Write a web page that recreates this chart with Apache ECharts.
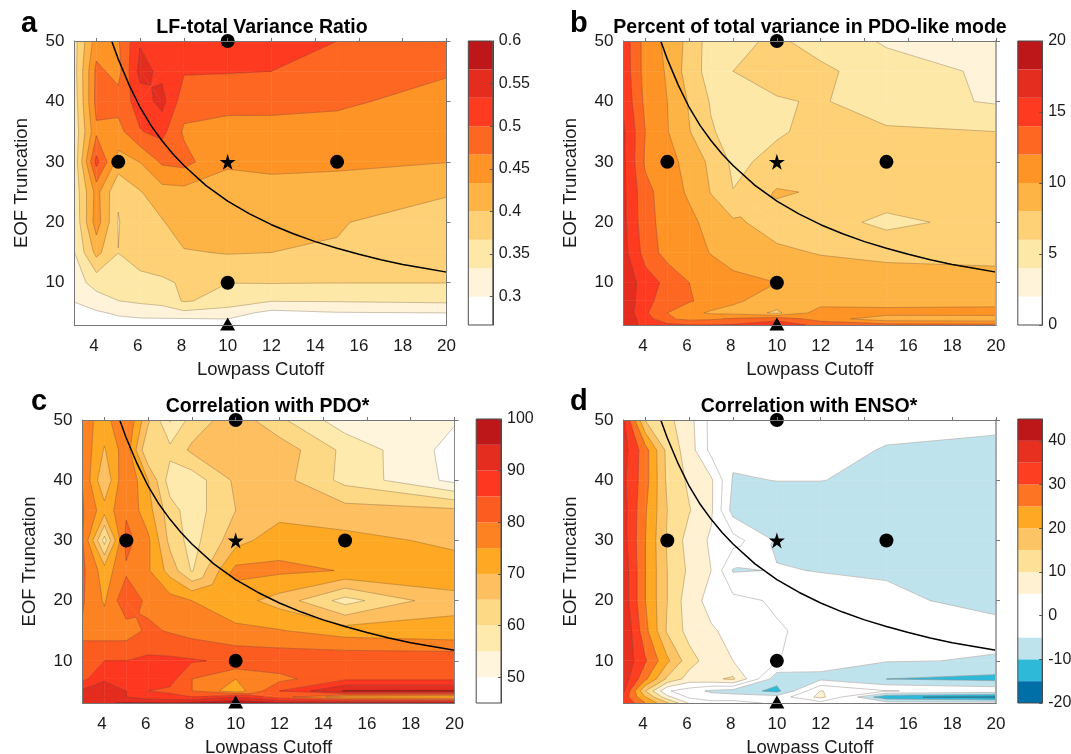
<!DOCTYPE html>
<html><head><meta charset="utf-8">
<style>html,body{margin:0;padding:0;background:#fff}#c{width:1071px;height:754px}</style>
<script src="https://cdn.jsdelivr.net/npm/echarts@6/dist/echarts.min.js"></script>
</head><body><div id="c"></div>
<script>
const cutoffs=[3,4,5,6,7,8,10,12,15,20];
const truncations=[3,4,5,7,10,15,20,25,30,35,40,45,50];
const xTicks=[4,6,8,10,12,14,16,18,20];
const yTicks=[10,20,30,40,50];

// rows follow truncations (3 -> 50), columns follow cutoffs
const ratioRows=[
[.27,.285,.285,.285,.285,.285,.29,.28,.285,.285],
[.275,.29,.295,.298,.298,.298,.3,.285,.29,.29],
[.285,.295,.305,.31,.315,.325,.315,.29,.298,.3],
[.302,.32,.333,.34,.345,.37,.355,.335,.336,.34],
[.32,.345,.352,.358,.362,.37,.367,.368,.367,.367],
[.333,.41,.367,.38,.385,.397,.402,.4,.398,.385],
[.34,.45,.365,.39,.397,.42,.42,.418,.402,.385],
[.345,.445,.37,.398,.42,.422,.428,.428,.425,.403],
[.345,.51,.42,.434,.472,.478,.435,.437,.437,.434],
[.345,.46,.455,.498,.51,.462,.455,.457,.455,.445],
[.35,.478,.48,.515,.545,.48,.477,.475,.472,.455],
[.355,.475,.455,.545,.525,.503,.502,.5,.487,.47],
[.355,.45,.463,.53,.525,.525,.52,.515,.5,.49]];
const percentRows=[
[17,15.5,14.5,14,14,14.2,15,13.5,12.8,12.5],
[17.5,15,12.3,11.5,11.7,12.3,13.5,11,8.8,8.6],
[17.5,14.3,12,10.6,9.7,9.4,7.6,11,10.8,11],
[17.5,14.7,12.9,12.2,11.2,10.3,9.1,9,9,9],
[17.6,14.9,13.5,12,11.2,10.4,10,9,8.6,8.6],
[16.7,13.2,11.2,10.8,9.9,9.4,8.3,7.9,7.7,7.5],
[16.5,12.7,11.2,10.5,9.3,8.3,7.3,7,5.4,6.9],
[16.4,12.6,11,9.7,7.9,6.05,8.2,7.8,7.3,7.2],
[16.4,11.7,10.6,9.4,7.5,5.6,6.5,7,7.2,7.1],
[16.3,12,10.1,8.1,6.2,5.2,5.8,6.5,6.3,6],
[15.6,11.5,10,7.8,5.8,5,5.8,6.2,4.8,3.8],
[15.3,11.2,9.8,7,5.2,6,6.9,6.5,4.7,3.7],
[15.2,11.2,9.5,7.4,5,5.4,6.4,5,3.8,3]];
const pdoRows=[
[92,94.5,95.5,95.5,95,96,98,95.5,95.5,95],
[93,92,90,87,86.5,85,90,82,72,70],
[91,92,90,85,84,80,72,85,95.5,95.5],
[83.5,89.5,88,87.5,87,80,75,78.5,84,84],
[81,85,85,86,86,85.5,84,83.5,84,84],
[79.5,77.5,77.5,81,79.5,78,76,75.3,72.5,71],
[80.5,74.4,84,78.5,77,75,72,68,58,69],
[81,72.5,79,75.6,68,59.5,76.5,76,74.8,72],
[80.5,58,82,76,63.5,58,68,73,71.5,69],
[80.5,72,79,72,62,57.5,65,68,67,66],
[79.8,65.5,80,70,57.5,57,66,67,58.5,48.6],
[79,69.5,78,60,61.4,66,69,68,58.7,48],
[77,73,80,66,54.5,62,68,61,52,50.5]];
const ensoRows=[
[35,25,15.5,4.5,1.5,2,-1,-2,-3,-3],
[33,20,6.5,-1,-2.5,-3,-3,6.5,-14,-17],
[36,15,.5,-2.5,-6,-7,-11.5,5.2,.2,-1.5],
[38,26,14,8,9,10.8,-8,-6,-10,-11.5],
[39,30.5,21,12,7.5,5,.3,-3.5,-4.7,-5.3],
[40,26.5,14.3,8.2,5.5,3.8,.5,-1.5,-3,-4],
[38,25,15,7,3.5,1.5,-.7,-3.6,-4.4,-5.9],
[38,25,15,9,5,-5.4,-4.8,-5.1,-5.3,-7],
[37,25,14.5,8,4.3,2,-5.6,-7,-6.5,-7],
[37,25.5,15,10.3,5.8,-7,-8,-8,-7.5,-7],
[36,27,14,9,5.8,-5.5,-4.9,-4.9,-6,-6],
[37,27,13.5,7.5,-1.5,-3.5,-4,-4,-5.2,-5.5],
[36,14.7,11.4,6.8,-1.5,-3,-3.5,-3.5,-4,-4.5]];

const ratioLevels=[.2667,.3,.3333,.3667,.4,.4333,.4667,.5,.5333,.5667,.6];
const percentLevels=[0,2,4,6,8,10,12,14,16,18,20];
const pdoLevels=[45,50,55,60,65,70,75,80,85,90,95,100];
const ensoLevels=[-20,-15,-10,-5,0,5,10,15,20,25,30,35,40,45];

const warmColors=['#ffffff','#fff3d9','#fee8a8','#fed176','#feb345','#fe9426','#fd6722','#fe3b20','#e42c1f','#bd1719'];
const pdoColors=['#ffffff','#fff5dc','#feeaad','#fed985','#fdbf60','#fea823','#fd8222','#fd5c20','#fe3820','#e42c1f','#bd1719'];
const ensoColors=['#006fa8','#2fb9d9','#bfe3ed','#ffffff','#ffffff','#fff1d2','#fee196','#fdc466','#fea823','#fd7522','#fe3e20','#e7301f','#bd1719'];

const ratioBarLabels=[.3,.35,.4,.45,.5,.55,.6];
const percentBarLabels=[0,5,10,15,20];
const pdoBarLabels=[50,60,70,80,90,100];
const ensoBarLabels=[-20,-10,0,10,20,30,40];

const curveX=[4.7,5,5.5,6,6.5,7,7.5,8,9,10,11,12,13,14,15,16,17,18,19,20];
const curveY=[50,47,42.7,39,36,33.5,31.3,29.4,26.1,23.5,21.4,19.6,18.1,16.8,15.7,14.7,13.8,13,12.4,11.75];
const circleMarks=[[5,30],[15,30],[10,10],[10,50]];
const starMark=[[10,30]];
const triangleMark=[[10,3]];

const titles=['LF-total Variance Ratio','Percent of total variance in PDO-like mode','Correlation with PDO*','Correlation with ENSO*'];
const letters=['a','b','c','d'];
const xName='Lowpass Cutoff', yName='EOF Truncation';

const panels=[
 {rows:ratioRows,levels:ratioLevels,colors:warmColors,bar:ratioBarLabels,plot:[74.5,41,372,284],cb:[468.3,41,24.5,284],tx:262,ty:18,lx:21,ly:9,edge:'#777'},
 {rows:percentRows,levels:percentLevels,colors:warmColors,bar:percentBarLabels,plot:[623.5,41,372.5,284],cb:[1017.8,41,24.4,284],tx:810,ty:18,lx:570,ly:9,edge:'#aaa'},
 {rows:pdoRows,levels:pdoLevels,colors:pdoColors,bar:pdoBarLabels,plot:[82.5,420,372,283],cb:[476.2,419,24.8,284],tx:267.5,ty:397,lx:31,ly:387,edge:'#888'},
 {rows:ensoRows,levels:ensoLevels,colors:ensoColors,bar:ensoBarLabels,plot:[623.5,420,372.5,283],cb:[1017.8,419,24.4,284],tx:809,ty:397,lx:570,ly:387,edge:'#aaa'}
];

const FONT='"Liberation Sans",Arial,sans-serif';
const STAR='path://M50 0L61 35L98 35L68 57L79 91L50 70L21 91L32 57L2 35L39 35Z';

function cellData(rows){
  const out=[];
  for(let j=0;j<truncations.length-1;j++)for(let i=0;i<cutoffs.length-1;i++){
    out.push([cutoffs[i],truncations[j],cutoffs[i+1],truncations[j+1],rows[j][i],rows[j][i+1],rows[j+1][i+1],rows[j+1][i]]);
  }
  return out;
}
function cellPieces(api,levels){
  const x0=api.value(0),y0=api.value(1),x1=api.value(2),y1=api.value(3);
  const q=[[x0,y0,api.value(4)],[x1,y0,api.value(5)],[x1,y1,api.value(6)],[x0,y1,api.value(7)]];
  const saddle=levels.some(L=>{
    const s=q.map(p=>p[2]>=L);
    return s[0]===s[2]&&s[1]===s[3]&&s[0]!==s[1];
  });
  if(!saddle)return [q];
  const c=[(x0+x1)/2,(y0+y1)/2,(q[0][2]+q[1][2]+q[2][2]+q[3][2])/4];
  return q.map((p,k)=>[p,q[(k+1)%4],c]);
}
function clip(poly,level,keepAbove){
  const out=[],inside=p=>keepAbove?p[2]>=level:p[2]<=level;
  for(let k=0;k<poly.length;k++){
    const a=poly[k],b=poly[(k+1)%poly.length],ia=inside(a),ib=inside(b);
    if(ia)out.push(a);
    if(ia!==ib){const t=(level-a[2])/(b[2]-a[2]);out.push([a[0]+t*(b[0]-a[0]),a[1]+t*(b[1]-a[1]),level]);}
  }
  return out;
}
function fillRender(p){
  return function(params,api){
    const children=[];
    cellPieces(api,p.levels).forEach(piece=>{
      p.colors.forEach((c,b)=>{
        let poly=piece;
        if(b>0)poly=clip(poly,p.levels[b],true);
        if(poly.length&&b<p.colors.length-1)poly=clip(poly,p.levels[b+1],false);
        if(poly.length>2)children.push({type:'polygon',silent:true,shape:{points:poly.map(q=>api.coord([q[0],q[1]]))},style:{fill:c,stroke:c,lineWidth:.5}});
      });
    });
    return {type:'group',children};
  };
}
function lineRender(p){
  return function(params,api){
    const children=[];
    cellPieces(api,p.levels).forEach(piece=>{
      p.levels.slice(1,-1).forEach(L=>{
        const pts=[];
        for(let k=0;k<piece.length;k++){
          const a=piece[k],b=piece[(k+1)%piece.length];
          if((a[2]>=L)!==(b[2]>=L)){const t=(L-a[2])/(b[2]-a[2]);pts.push(api.coord([a[0]+t*(b[0]-a[0]),a[1]+t*(b[1]-a[1])]));}
        }
        for(let k=0;k+1<pts.length;k+=2){
          children.push({type:'line',silent:true,shape:{x1:pts[k][0],y1:pts[k][1],x2:pts[k+1][0],y2:pts[k+1][1]},style:{stroke:'rgba(70,50,40,.38)',lineWidth:.7}});
        }
      });
    });
    return {type:'group',children};
  };
}
function barRender(p){
  return function(params,api){
    const a=api.coord([0,api.value(1)]),b=api.coord([1,api.value(2)]);
    return {type:'rect',silent:true,shape:{x:a[0],y:b[1],width:b[0]-a[0],height:a[1]-b[1]},style:{fill:p.colors[api.value(0)]}};
  };
}
function frameRender(params,api){
  const a=api.coord([0,api.value(0)]),b=api.coord([1,api.value(1)]);
  return {type:'rect',silent:true,shape:{x:a[0],y:b[1],width:b[0]-a[0],height:a[1]-b[1]},style:{fill:'none',stroke:'#4a4a4a',lineWidth:1}};
}

const grid=[],xAxis=[],yAxis=[],series=[],title=[];
const box=r=>({left:r[0],top:r[1],width:r[2],height:r[3],show:false,outerBoundsMode:'none',containLabel:false});
panels.forEach((p,k)=>{
  const gi=grid.length,xi=xAxis.length,yi=yAxis.length;
  const edge={lineStyle:{color:'#777',width:1}};
  grid.push(box(p.plot),box(p.cb));
  xAxis.push(
   {gridIndex:gi,type:'value',min:3,max:20,position:'bottom',z:10,name:xName,nameLocation:'middle',nameGap:35,
    nameTextStyle:{fontFamily:FONT,fontSize:18.5,color:'#1a1a1a'},splitLine:{show:false},axisLine:{show:true,onZero:false,...edge},axisTick:{show:false,customValues:xTicks},
    axisLabel:{customValues:xTicks,margin:13,fontFamily:FONT,fontSize:17,color:'#1a1a1a',formatter:v=>v<10?v+'\u00a0':String(v)}},
   {gridIndex:gi,type:'value',min:3,max:20,position:'top',z:10,splitLine:{show:false},axisLine:{show:true,onZero:false,...edge},
    axisTick:{show:true,customValues:xTicks,length:3,lineStyle:{color:'#777'}},axisLabel:{show:false}},
   {gridIndex:gi+1,type:'value',min:0,max:1,show:false}
  );
  yAxis.push(
   {gridIndex:gi,type:'value',min:3,max:50,position:'left',z:10,name:yName,nameLocation:'middle',nameGap:43,
    nameTextStyle:{fontFamily:FONT,fontSize:18.5,color:'#1a1a1a'},splitLine:{show:false},axisLine:{show:true,onZero:false,...edge},axisTick:{show:false,customValues:yTicks},
    axisLabel:{customValues:yTicks,margin:10,fontFamily:FONT,fontSize:17,color:'#1a1a1a'}},
   {gridIndex:gi,type:'value',min:3,max:50,position:'right',z:10,splitLine:{show:false},axisLine:{show:true,onZero:false,lineStyle:{color:p.edge,width:p.edge==='#aaa'?2:1}},
    axisTick:{show:true,customValues:yTicks,length:4,lineStyle:{color:'#777'}},axisLabel:{show:false}},
   {gridIndex:gi+1,type:'value',min:p.levels[0],max:p.levels[p.levels.length-1],position:'right',z:10,splitLine:{show:false},
    axisLine:{show:true,onZero:false,lineStyle:{color:'#4a4a4a'}},axisTick:{show:true,inside:true,length:3,customValues:p.bar,lineStyle:{color:'#555'}},
    axisLabel:{customValues:p.bar,margin:6,fontFamily:FONT,fontSize:16,color:'#1a1a1a',formatter:v=>String(v)}}
  );
  const data=cellData(p.rows);
  const on={xAxisIndex:xi,yAxisIndex:yi,coordinateSystem:'cartesian2d',animation:false,silent:true};
  series.push({type:'custom',...on,z:2,data,encode:{x:[0,2],y:[1,3]},renderItem:fillRender(p),clip:true});
  series.push({type:'custom',...on,z:3,data,encode:{x:[0,2],y:[1,3]},renderItem:lineRender(p),clip:true});
  series.push({type:'line',...on,z:5,data:curveX.map((x,i)=>[x,curveY[i]]),showSymbol:false,symbol:'none',lineStyle:{color:'#000',width:1.5},clip:true});
  series.push({type:'scatter',...on,z:6,clip:false,data:circleMarks,symbol:'circle',symbolSize:14,itemStyle:{color:'#000',opacity:1}});
  series.push({type:'scatter',...on,z:6,clip:false,data:starMark,symbol:STAR,symbolSize:16,itemStyle:{color:'#000',opacity:1}});
  series.push({type:'scatter',...on,z:6,clip:false,data:triangleMark,symbol:'triangle',symbolSize:[15,13],symbolOffset:[0,-1],itemStyle:{color:'#000',opacity:1}});
  const bar={xAxisIndex:xi+2,yAxisIndex:yi+2,coordinateSystem:'cartesian2d',animation:false,silent:true,clip:false};
  series.push({type:'custom',...bar,z:2,data:p.colors.map((c,b)=>[b,p.levels[b],p.levels[b+1]]),encode:{y:[1,2]},renderItem:barRender(p)});
  series.push({type:'custom',...bar,z:4,data:[[p.levels[0],p.levels[p.levels.length-1]]],encode:{y:[0,1]},renderItem:frameRender});
  title.push({text:titles[k],left:p.tx,top:p.ty,textAlign:'center',textVerticalAlign:'top',padding:0,textStyle:{fontFamily:FONT,fontWeight:'bold',fontSize:19.5,color:'#000'}});
  title.push({text:letters[k],left:p.lx,top:p.ly,padding:0,textStyle:{fontFamily:FONT,fontWeight:'bold',fontSize:29,color:'#000'}});
});

const chart=echarts.init(document.getElementById('c'),null,{renderer:'canvas'});
chart.setOption({animation:false,backgroundColor:'#fff',title,grid,xAxis,yAxis,series});
</script></body></html>
